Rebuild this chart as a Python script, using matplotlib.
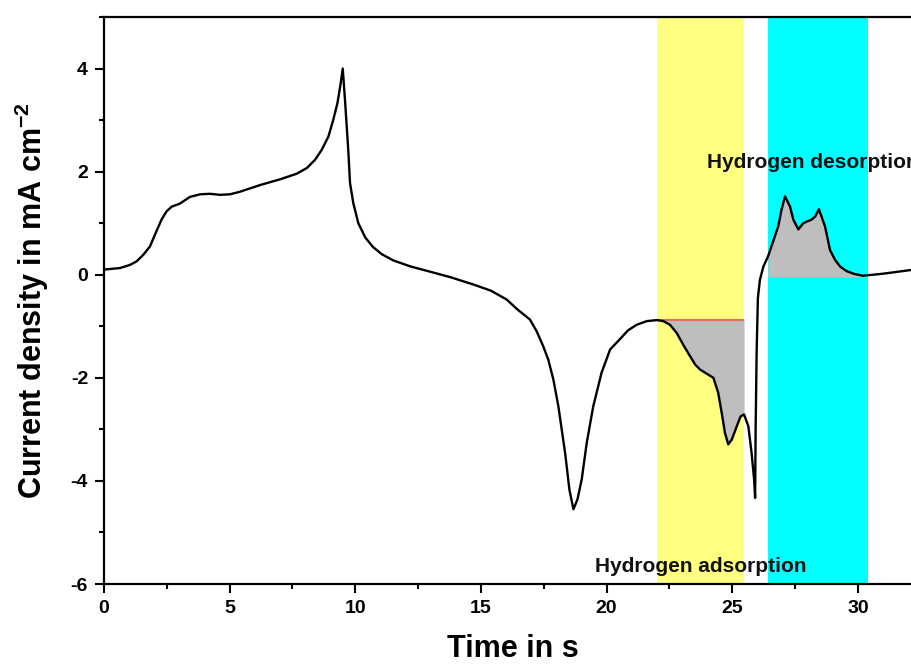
import numpy as np
import matplotlib
matplotlib.use("Agg")
import matplotlib.pyplot as plt
from matplotlib.ticker import MultipleLocator

plt.rcParams['font.family'] = ['Liberation Sans', 'DejaVu Sans']
plt.rcParams['font.weight'] = 'bold'
plt.rcParams['axes.unicode_minus'] = False
plt.rcParams['mathtext.fontset'] = 'custom'
plt.rcParams['mathtext.rm'] = 'Liberation Sans:bold'
plt.rcParams['mathtext.bf'] = 'Liberation Sans:bold'

# Chronoamperometric current transient
time_s = np.array([
    0.0, 0.64, 1.03, 1.3, 1.57, 1.83, 2.03, 2.29, 2.49, 2.69, 3.02, 3.42,
    3.82, 4.22, 4.62, 5.01, 5.41, 6.21, 7.0, 7.67, 8.07, 8.4, 8.66, 8.93,
    9.12, 9.29, 9.42, 9.5, 9.59, 9.72, 9.79, 9.92, 10.12, 10.4, 10.7,
    11.05, 11.5, 12.2, 12.97, 13.8, 14.7, 15.4, 16.02, 16.42, 16.95,
    17.22, 17.48, 17.68, 17.88, 18.08, 18.35, 18.52, 18.68, 18.84, 19.01,
    19.21, 19.47, 19.8, 20.14, 20.53, 20.85, 21.2, 21.6, 22.0, 22.26,
    22.52, 22.79, 23.05, 23.32, 23.52, 23.72, 24.05, 24.25, 24.44, 24.58,
    24.71, 24.84, 24.98, 25.18, 25.33, 25.47, 25.64, 25.77, 25.87, 25.91,
    25.93, 25.97, 26.02, 26.1, 26.24, 26.42, 26.63, 26.83, 26.96, 27.1,
    27.3, 27.43, 27.63, 27.83, 27.96, 28.16, 28.3, 28.45, 28.69, 28.89,
    29.09, 29.29, 29.55, 29.82, 30.2, 31.0, 32.55,
])
current_density = np.array([
    0.10, 0.13, 0.19, 0.26, 0.39, 0.55, 0.78, 1.07, 1.23, 1.32, 1.38, 1.51,
    1.56, 1.57, 1.55, 1.56, 1.61, 1.74, 1.85, 1.96, 2.07, 2.23, 2.42, 2.68,
    3.00, 3.33, 3.72, 4.00, 3.39, 2.42, 1.78, 1.39, 1.00, 0.72, 0.54,
    0.40, 0.28, 0.16, 0.06, -0.05, -0.19, -0.31, -0.48, -0.66, -0.87,
    -1.10, -1.39, -1.65, -2.03, -2.55, -3.46, -4.17, -4.55, -4.36, -3.97,
    -3.26, -2.55, -1.90, -1.45, -1.25, -1.08, -0.97, -0.90, -0.88, -0.90,
    -0.97, -1.13, -1.36, -1.58, -1.74, -1.84, -1.94, -2.00, -2.29, -2.68,
    -3.07, -3.29, -3.20, -2.94, -2.75, -2.71, -2.94, -3.46, -3.97, -4.33,
    -3.00, -1.50, -0.45, -0.10, 0.16, 0.35, 0.65, 0.94, 1.26, 1.52,
    1.32, 1.07, 0.88, 1.00, 1.03, 1.07, 1.13, 1.27, 0.94, 0.48,
    0.29, 0.16, 0.07, 0.02, -0.02, 0.02, 0.12,
])

# Potential windows
adsorption_window = (22.0, 25.47)
desorption_window = (26.42, 30.4)
adsorption_baseline = -0.88
desorption_baseline = -0.045
desorption_fill_end = 30.2

fig = plt.figure(figsize=(9.11, 6.66), dpi=100)
ax = fig.add_axes([0.11416, 0.12312, 0.8979, 0.85135])

ax.axvspan(*adsorption_window, color='#FFFF80', lw=0, zorder=0)
ax.axvspan(*desorption_window, color='#00FFFF', lw=0, zorder=0)

in_ads = (time_s >= adsorption_window[0]) & (time_s <= adsorption_window[1])
ax.fill_between(time_s, current_density, adsorption_baseline, where=in_ads,
                color='#BEBEBE', lw=0, zorder=1)
ax.hlines(adsorption_baseline, *adsorption_window, color='#E07060', lw=1.5, zorder=2)

in_des = (time_s >= desorption_window[0]) & (time_s <= desorption_fill_end)
ax.fill_between(time_s, current_density, desorption_baseline, where=in_des,
                color='#BEBEBE', lw=0, zorder=1)

ax.plot(time_s, current_density, color='black', lw=1.7, zorder=3,
        solid_joinstyle='round', solid_capstyle='round')

ax.text(24.0, 2.17, 'Hydrogen desorption', fontsize=15, fontweight='bold',
        color='#111111', va='center', ha='left', zorder=4, clip_on=False)
ax.text(19.54, -5.66, 'Hydrogen adsorption', fontsize=15, fontweight='bold',
        color='#111111', va='center', ha='left', zorder=4)

ax.set_xlim(0, 32.55)
ax.set_ylim(-6, 5)
ax.xaxis.set_major_locator(MultipleLocator(5))
ax.xaxis.set_minor_locator(MultipleLocator(2.5))
ax.yaxis.set_minor_locator(MultipleLocator(1))
ax.set_yticks([-6, -4, -2, 0, 2, 4])

for s in ax.spines.values():
    s.set_linewidth(1.6)
ax.spines['right'].set_visible(False)

ax.tick_params(which='major', direction='out', length=6.5, width=1.5,
               labelsize=14, pad=5)
ax.tick_params(which='minor', direction='out', length=3.5, width=1.5)
for lab in ax.get_xticklabels() + ax.get_yticklabels():
    lab.set_fontweight('bold')

ax.set_xlabel('Time in s', fontsize=22, fontweight='bold', labelpad=12)
ax.set_ylabel('Current density in mA cm$^{\\mathregular{-2}}$', fontsize=22,
              fontweight='bold', labelpad=14)

fig.savefig('out.png', dpi=100)
